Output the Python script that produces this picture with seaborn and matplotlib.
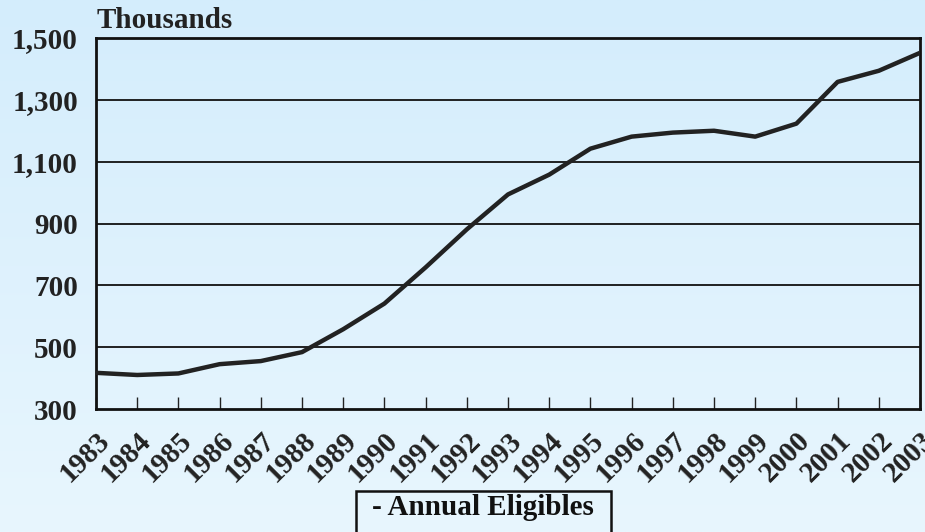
import numpy as np
import pandas as pd
import matplotlib
matplotlib.use("Agg")
import matplotlib.pyplot as plt
from matplotlib.patches import Rectangle
import seaborn as sns

years = list(range(1983, 2004))
eligibles = [417, 410, 415, 445, 455, 484, 558, 641, 758, 881, 994, 1058,
             1142, 1181, 1194, 1200, 1181, 1223, 1358, 1394, 1452]
y_ticks = [300, 500, 700, 900, 1100, 1300, 1500]
y_tick_labels = ["300", "500", "700", "900", "1,100", "1,300", "1,500"]

df = pd.DataFrame({"year": years, "eligibles": eligibles})

sns.set_theme(style="white")
plt.rcParams["font.family"] = ["Liberation Serif", "DejaVu Serif"]
plt.rcParams["font.weight"] = "bold"

W, H = 925, 532
fig = plt.figure(figsize=(W / 100, H / 100), dpi=100)

# soft vertical gradient background
bg = fig.add_axes([0, 0, 1, 1], zorder=-10)
top = np.array([0xd4, 0xed, 0xfc]) / 255
bot = np.array([0xe8, 0xf6, 0xfe]) / 255
t = np.linspace(0, 1, 256)[:, None]
grad = top * (1 - t) + bot * t
bg.imshow(grad[:, None, :].repeat(2, axis=1), aspect="auto",
          extent=[0, 1, 0, 1], origin="upper")
bg.axis("off")

ax = fig.add_axes([96 / W, 1 - 409 / H, (920 - 96) / W, (409 - 38) / H])
ax.set_facecolor("none")

sns.lineplot(data=df, x="year", y="eligibles", ax=ax, color="#222222",
             linewidth=3.2, zorder=3)

ax.set_xlim(1983, 2003)
ax.set_ylim(300, 1500)
ax.set_yticks(y_ticks)
ax.set_yticklabels(y_tick_labels, fontsize=21, fontweight="bold", color="#222222")
ax.set_xticks(years)
ax.set_xticklabels([str(y) for y in years], rotation=45, ha="right",
                   rotation_mode="anchor", fontsize=21, fontweight="bold",
                   color="#222222")
ax.tick_params(axis="y", length=0, pad=13)
ax.tick_params(axis="x", direction="in", length=9, width=1, color="#222222",
               pad=13, bottom=True)
for yv in y_ticks[1:-1]:
    ax.axhline(yv, color="#111111", linewidth=1.3, zorder=1)
for s in ax.spines.values():
    s.set_visible(True)
    s.set_color("#111111")
    s.set_linewidth(2)
ax.set_xlabel("")
ax.set_ylabel("")

fig.text(97 / W, 1 - 28 / H, "Thousands", fontsize=21, fontweight="bold",
         color="#222222", ha="left", va="baseline")

# series caption in an outlined box below the axis labels
fig.text(483 / W, 1 - 515 / H, "- Annual Eligibles", fontsize=21,
         fontweight="bold", color="#111111", ha="center", va="baseline")
fig.patches.append(Rectangle((356 / W, 1 - 534 / H), (611 - 356) / W, (534 - 491) / H,
                             transform=fig.transFigure, facecolor="none",
                             edgecolor="#111111", linewidth=1.8))

fig.savefig("out.png", dpi=100)
